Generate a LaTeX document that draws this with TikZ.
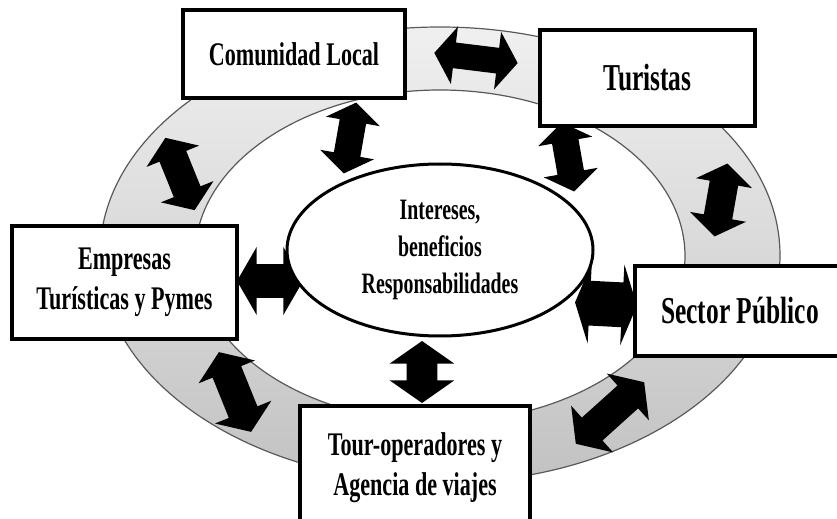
\documentclass[tikz,border=0pt]{standalone}
\usepackage{fontspec}
\setmainfont{Liberation Serif}[FakeStretch=0.67]
\usetikzlibrary{shapes.geometric,shapes.arrows}

\tikzset{
  actor/.style={draw, line width=2pt, fill=white, align=center, inner sep=0pt,
    font=\bfseries\fontsize{16.5}{20}\selectfont},
  dblarr/.style n args={3}{double arrow, fill=black, inner sep=0pt, inner ysep=#1,
    double arrow head extend=#2, minimum height=#3, minimum width=0pt,
    double arrow tip angle=110},
  ringfill/.style={top color=gray!12, bottom color=gray!48, draw=black!65,
    line width=0.6pt, even odd rule},
}

\begin{document}
\begin{tikzpicture}[x=0.5pt, y=-0.5pt]
    \useasboundingbox (0,0) rectangle (837,519);
 % Ring
    \path [ringfill] (440,255) ellipse [x radius=170pt, y radius=114pt]
                     (440,256) ellipse [x radius=122.5pt, y radius=83pt];
 % Arrows
    \node [dblarr={6.25pt}{8pt}{42pt}, rotate=-7] (a1) at (476,58) {};
    \node [dblarr={6.5pt}{7pt}{36pt}, rotate=80] (a2) at (350,138) {};
    \node [dblarr={7pt}{7pt}{39pt}, rotate=112] (a3) at (180,174) {};
    \node [dblarr={6.5pt}{7pt}{35pt}, rotate=100] (a4) at (568,157) {};
    \node [dblarr={7pt}{7pt}{37pt}, rotate=80] (a5) at (721,200) {};
    \node [dblarr={8.25pt}{8.5pt}{33pt}, double arrow tip angle=120] (a6) at (270,281) {};
    \node [dblarr={11pt}{9pt}{31pt}, double arrow tip angle=140, rotate=-3] (a7) at (606,304) {};
    \node [dblarr={7.5pt}{8.5pt}{31pt}, rotate=90] (a8) at (422,372) {};
    \node [dblarr={7.5pt}{7.5pt}{43pt}, rotate=112] (a9) at (235,392) {};
    \node [dblarr={7.5pt}{8pt}{46pt}, rotate=42] (a10) at (610,413) {};
 % Centre
    \node [ellipse, draw, line width=1.5pt, fill=white, inner sep=0pt,
           minimum width=153pt, minimum height=86pt, align=center,
           font=\bfseries\fontsize{14.8}{18.5}\selectfont] (centro) at (440,250)
           {Intereses,\\ beneficios\\ Responsabilidades};
 % Actors
    \node [actor, minimum width=111pt, minimum height=44pt] (comunidad) at (294,54) {Comunidad Local};
    \node [actor, minimum width=107.5pt, minimum height=48pt, font=\bfseries\fontsize{19}{22}\selectfont]
          (turistas) at (647.5,78) {Turistas};
    \node [actor, minimum width=112.5pt, minimum height=56.5pt] (empresas) at (124.5,282.5)
          {Empresas\\ Turísticas y Pymes};
    \node [actor, minimum width=105pt, minimum height=45pt, font=\bfseries\fontsize{19}{22}\selectfont]
          (sector) at (740,311) {Sector Público};
    \node [actor, minimum width=115pt, minimum height=62pt] (tour) at (415,468)
          {Tour-operadores y\\ Agencia de viajes};
\end{tikzpicture}
\end{document}
